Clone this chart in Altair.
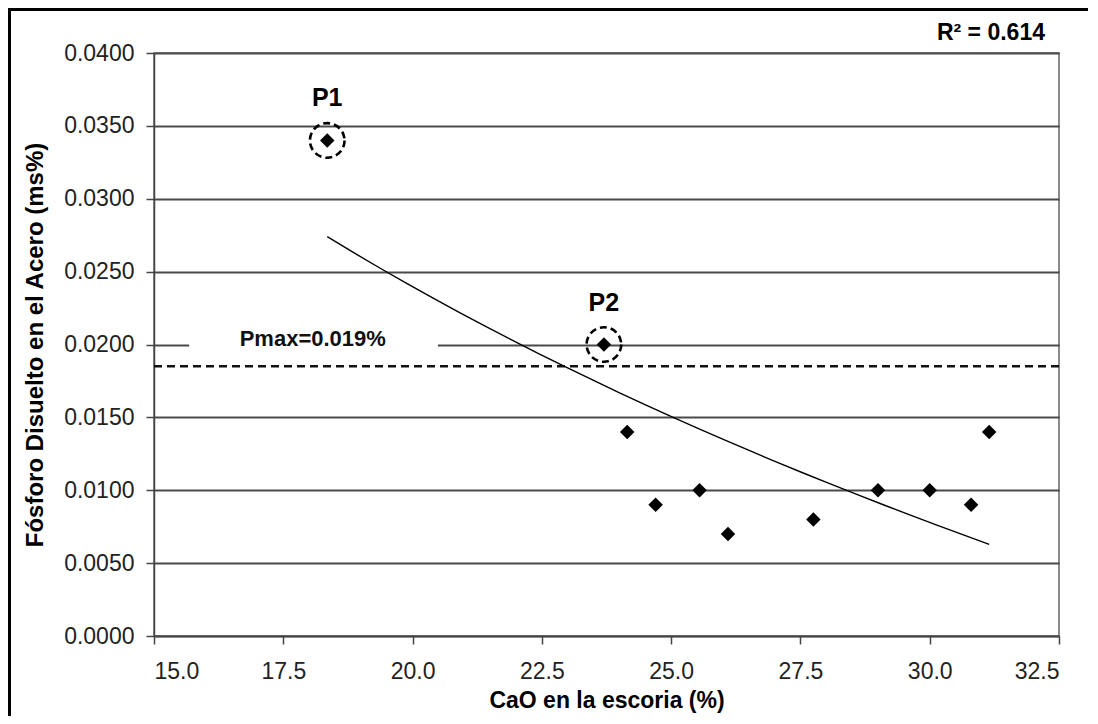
import altair as alt
import pandas as pd

# ---- data ----
CAO = [18.35, 23.7, 24.15, 24.7, 25.55, 26.1, 27.75, 29.0, 30.0, 30.8, 31.15]
FOSFORO = [0.034, 0.020, 0.014, 0.009, 0.010, 0.007, 0.008, 0.010, 0.010, 0.009, 0.014]
HIGHLIGHT_IDX = [0, 1]
HIGHLIGHT_LABELS = ["P1", "P2"]
PMAX_LINE = 0.0185
PMAX_TEXT = "Pmax=0.019%"
R2_TEXT = "R² = 0.614"
X_TICKS = [15.0, 17.5, 20.0, 22.5, 25.0, 27.5, 30.0, 32.5]
Y_TICKS = [0.0, 0.005, 0.01, 0.015, 0.02, 0.025, 0.03, 0.035, 0.04]
# annotation box (data coordinates) behind the Pmax label
PMAX_BOX_X = [15.68, 20.49]
PMAX_BOX_Y = [0.0196, 0.0214]
PMAX_LABEL_POS = [18.07, 0.0204]

FONT = "Liberation Sans"

pts = pd.DataFrame({"x": CAO, "y": FOSFORO})
hl = pd.DataFrame({
    "x": [CAO[i] for i in HIGHLIGHT_IDX],
    "y": [FOSFORO[i] for i in HIGHLIGHT_IDX],
    "label": HIGHLIGHT_LABELS,
})

xscale = alt.Scale(domain=[15, 32.5], nice=False, zero=False)
yscale = alt.Scale(domain=[0, 0.04], nice=False)

X = alt.X("x:Q", scale=xscale,
          axis=alt.Axis(values=X_TICKS, format=".1f", grid=False,
                        title="CaO en la escoria (%)", tickSize=8,
                        labelPadding=16, titlePadding=6, titleFontSize=23))
Y = alt.Y("y:Q", scale=yscale,
          axis=alt.Axis(values=Y_TICKS, format=".4f", grid=True,
                        title="Fósforo Disuelto en el Acero (ms%)", tickSize=8,
                        labelPadding=12, titlePadding=16))

points = alt.Chart(pts).mark_point(shape="diamond", filled=True, color="black",
                                   size=210, opacity=1).encode(x=X, y=Y)

trend = alt.Chart(pts).transform_regression("x", "y", method="log").mark_line(
    color="black", strokeWidth=1.4).encode(x=X, y=Y)

pmax = alt.Chart(pd.DataFrame({"y": [PMAX_LINE]})).mark_rule(
    color="#111", strokeWidth=2.5, strokeDash=[8, 5]).encode(y=Y)

box = alt.Chart(pd.DataFrame({"x": [PMAX_BOX_X[0]], "x2": [PMAX_BOX_X[1]],
                              "y": [PMAX_BOX_Y[0]], "y2": [PMAX_BOX_Y[1]]})).mark_rect(
    color="white").encode(x=X, x2="x2:Q", y=Y, y2="y2:Q")

pmax_text = alt.Chart(pd.DataFrame({"x": [PMAX_LABEL_POS[0]], "y": [PMAX_LABEL_POS[1]],
                                    "t": [PMAX_TEXT]})).mark_text(
    font=FONT, fontSize=22, fontWeight="bold", color="#111", align="center",
    baseline="middle").encode(x=X, y=Y, text="t:N")

circles = alt.Chart(hl).mark_point(shape="circle", filled=False, color="black",
                                   size=1200, strokeWidth=2.6, strokeDash=[7, 4],
                                   opacity=1).encode(x=X, y=Y)

hl_text = alt.Chart(hl).mark_text(font=FONT, fontSize=25, fontWeight="bold",
                                  color="black", dy=-42, baseline="middle").encode(
    x=X, y=Y, text="label:N")

r2 = alt.Chart(pd.DataFrame({"t": [R2_TEXT]})).mark_text(
    font=FONT, fontSize=23, fontWeight="bold", color="black", align="right",
    baseline="middle").encode(x=alt.value(891), y=alt.value(-20), text="t:N")

one = pd.DataFrame({"a": [0]})
frame_left = alt.Chart(one).mark_rule(color="black", strokeWidth=3).encode(
    x=alt.value(-144.5), y=alt.value(-45), y2=alt.value(671))
frame_top = alt.Chart(one).mark_rule(color="black", strokeWidth=3).encode(
    x=alt.value(-146), x2=alt.value(940), y=alt.value(-43.5))

chart = alt.layer(
    box, pmax, trend, points, circles, hl_text, pmax_text, r2,
    frame_left, frame_top
).properties(
    width=905, height=583,
    padding={"left": 146, "top": 45, "right": 29, "bottom": 80},
    autosize="none",
    background="white",
).configure_view(
    stroke="#666", strokeWidth=1.5
).configure_axis(
    labelFont=FONT, labelFontSize=23, labelColor="#222",
    titleFont=FONT, titleFontSize=24, titleFontWeight="bold", titleColor="black",
    domainColor="#444", domainWidth=1.5, tickColor="#444", tickWidth=1.5,
    gridColor="#4a4a4a", gridWidth=1.8,
)

chart.save("out.html", embed_options={"renderer": "svg", "actions": False})
